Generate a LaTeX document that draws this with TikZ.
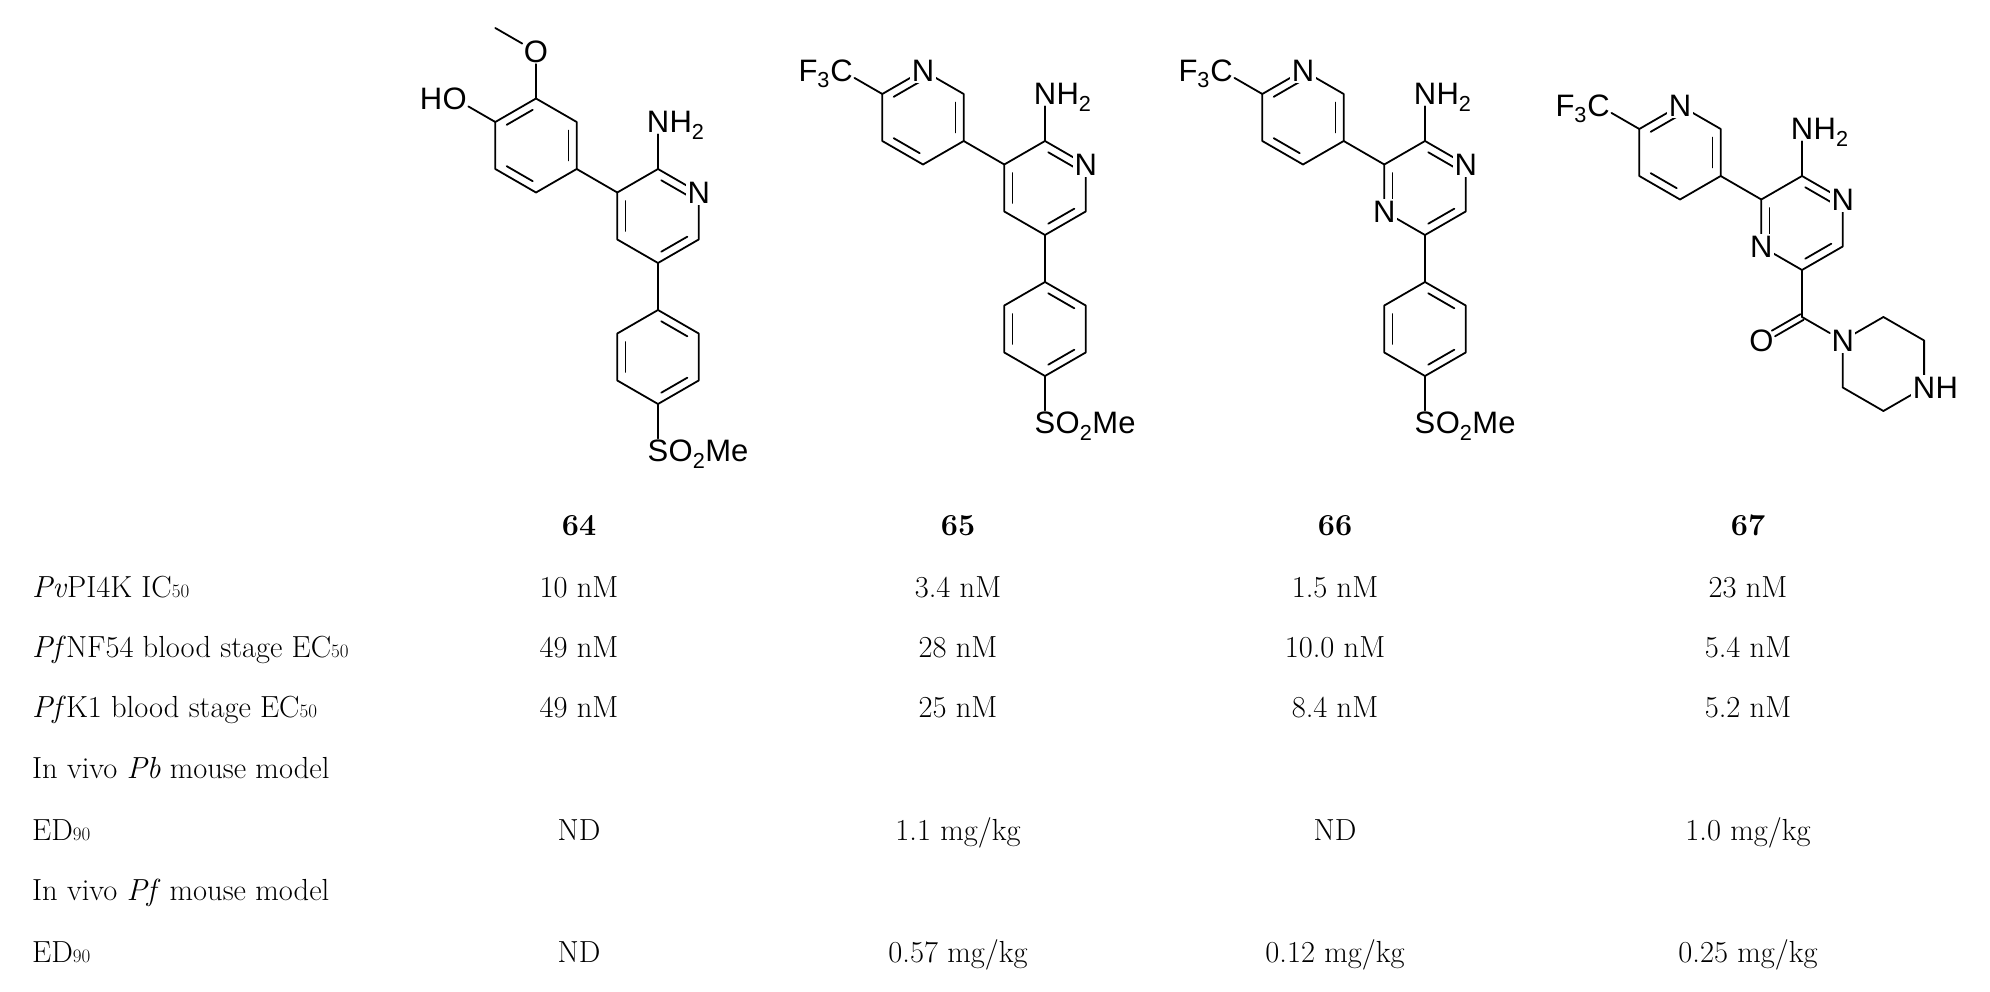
\documentclass[tikz,border=0pt]{standalone}
\usepackage{fontspec}
\newfontfamily\chemfont{Liberation Sans}
\usetikzlibrary{calc}
\newcommand\sbs[1]{{\fontsize{19}{19}\selectfont #1}}
\newcommand\hexring[2]{%
 \coordinate (#1) at (#2);
 \coordinate (#1t) at ($(#2)+(0,-47)$);
 \coordinate (#1ur) at ($(#2)+(40.7,-23.5)$);
 \coordinate (#1lr) at ($(#2)+(40.7,23.5)$);
 \coordinate (#1b) at ($(#2)+(0,47)$);
 \coordinate (#1ll) at ($(#2)+(-40.7,23.5)$);
 \coordinate (#1ul) at ($(#2)+(-40.7,-23.5)$);
 \draw[bond] (#1t)--(#1ur)--(#1lr)--(#1b)--(#1ll)--(#1ul)--cycle;}
\newcommand\dbl[3]{%
 \coordinate (tmpP) at ($(#1)!0.8!(#1#2)$);
 \coordinate (tmpQ) at ($(#1)!0.8!(#1#3)$);
 \draw[bond] ($(tmpP)!0.1!(tmpQ)$) -- ($(tmpQ)!0.1!(tmpP)$);}
\newcommand\patA[1]{\dbl{#1}{t}{ur}\dbl{#1}{lr}{b}\dbl{#1}{ll}{ul}}
\newcommand\patB[1]{\dbl{#1}{ul}{t}\dbl{#1}{ur}{lr}\dbl{#1}{b}{ll}}
\tikzset{
 bond/.style={line width=1.8pt, line cap=round, line join=round},
 atom/.style={font=\chemfont\fontsize{31}{31}\selectfont, fill=white, inner sep=1.5pt},
 atomrest/.style={font=\chemfont\fontsize{31}{31}\selectfont, inner sep=0pt},
 tab/.style={font=\fontsize{30.5}{30.5}\selectfont, anchor=base, inner sep=0pt},
 rowlab/.style={font=\fontsize{30.5}{30.5}\selectfont, anchor=base west, inner sep=0pt},
}
\begin{document}
\begin{tikzpicture}[x=1pt,y=-1pt]
\useasboundingbox (0,0) rectangle (1990,992);
% ---------- 64 ----------
\hexring{m64}{658,216}\patA{m64}
\hexring{l64}{536,145.5}\patB{l64}
\hexring{p64}{658,357}\patA{p64}
\node[atom] (n64) at (m64ur) {N};
\node[atom] (nh64) at ($(m64t)+(0,-47)$) {N};
\node[atomrest,anchor=base west] at ($(nh64.base east)+(-1.5,0)$) {H\textsubscript{2}};
\node[atom] (ome64) at ($(l64t)+(0,-47)$) {O};
\coordinate (me64) at ($(l64t)+(-40.7,-70.5)$);
\node[atom] (oh64) at ($(l64ul)+(-40.7,-23.5)$) {O};
\node[atomrest,anchor=base east] at ($(oh64.base west)+(1.5,0)$) {H};
\node[atom] (s64) at ($(p64b)+(0,47)$) {S};
\node[atomrest,anchor=base west] at ($(s64.base east)+(-1.5,0)$) {O\textsubscript{2}Me};
\draw[bond] (l64lr) -- (m64ul);
\draw[bond] (m64b) -- (p64t);
\draw[bond] (m64t) -- (nh64);
\draw[bond] (l64t) -- (ome64);
\draw[bond] (ome64) -- (me64);
\draw[bond] (l64ul) -- (oh64);
\draw[bond] (p64b) -- (s64);
% ---------- 65 ----------
\hexring{m65}{1045,188}\patA{m65}
\hexring{l65}{923,117.5}\patB{l65}
\hexring{p65}{1045,329}\patA{p65}
\node[atom] (n65) at (m65ur) {N};
\node[atom] (nl65) at (l65t) {N};
\node[atom] (nh65) at ($(m65t)+(0,-47)$) {N};
\node[atomrest,anchor=base west] at ($(nh65.base east)+(-1.5,0)$) {H\textsubscript{2}};
\node[atom] (c65) at ($(l65ul)+(-40.7,-23.5)$) {C};
\node[atomrest,anchor=base east] at ($(c65.base west)+(1.5,0)$) {F\textsubscript{3}};
\node[atom] (s65) at ($(p65b)+(0,47)$) {S};
\node[atomrest,anchor=base west] at ($(s65.base east)+(-1.5,0)$) {O\textsubscript{2}Me};
\draw[bond] (l65lr) -- (m65ul);
\draw[bond] (m65b) -- (p65t);
\draw[bond] (m65t) -- (nh65);
\draw[bond] (l65ul) -- (c65);
\draw[bond] (p65b) -- (s65);
% ---------- 66 ----------
\hexring{m66}{1425,188}\patA{m66}
\hexring{l66}{1303,117.5}\patB{l66}
\hexring{p66}{1425,329}\patA{p66}
\node[atom] (n66a) at (m66ur) {N};
\node[atom] (n66b) at (m66ll) {N};
\node[atom] (nl66) at (l66t) {N};
\node[atom] (nh66) at ($(m66t)+(0,-47)$) {N};
\node[atomrest,anchor=base west] at ($(nh66.base east)+(-1.5,0)$) {H\textsubscript{2}};
\node[atom] (c66) at ($(l66ul)+(-40.7,-23.5)$) {C};
\node[atomrest,anchor=base east] at ($(c66.base west)+(1.5,0)$) {F\textsubscript{3}};
\node[atom] (s66) at ($(p66b)+(0,47)$) {S};
\node[atomrest,anchor=base west] at ($(s66.base east)+(-1.5,0)$) {O\textsubscript{2}Me};
\draw[bond] (l66lr) -- (m66ul);
\draw[bond] (m66b) -- (p66t);
\draw[bond] (m66t) -- (nh66);
\draw[bond] (l66ul) -- (c66);
\draw[bond] (p66b) -- (s66);
% ---------- 67 ----------
\hexring{m67}{1802,223}\patA{m67}
\hexring{l67}{1680,152.5}\patB{l67}
\coordinate (co67) at ($(m67b)+(0,47)$);
\coordinate (oc67) at ($(co67)+(-40.7,23.5)$);
\hexring{q67}{1883.4,364}
\draw[bond] (m67b) -- (co67);
\draw[bond, shorten >=14pt] ($(co67)+(1.6,2.8)$) -- ($(oc67)+(1.6,2.8)$);
\draw[bond, shorten >=14pt] ($(co67)+(-1.6,-2.8)$) -- ($(oc67)+(-1.6,-2.8)$);
\node[atom] (n67a) at (m67ur) {N};
\node[atom] (n67b) at (m67ll) {N};
\node[atom] (nl67) at (l67t) {N};
\node[atom] (nh67) at ($(m67t)+(0,-47)$) {N};
\node[atomrest,anchor=base west] at ($(nh67.base east)+(-1.5,0)$) {H\textsubscript{2}};
\node[atom] (c67) at ($(l67ul)+(-40.7,-23.5)$) {C};
\node[atomrest,anchor=base east] at ($(c67.base west)+(1.5,0)$) {F\textsubscript{3}};
\node[atom,fill=none] (o67) at (oc67) {O};
\node[atom] (np67) at (q67ul) {N};
\node[atom] (nq67) at (q67lr) {N};
\node[atomrest,anchor=base west] at ($(nq67.base east)+(-1.5,0)$) {H};
\draw[bond] (l67lr) -- (m67ul);
\draw[bond] (m67t) -- (nh67);
\draw[bond] (l67ul) -- (c67);
\draw[bond] (co67) -- (np67);
% ---------- table ----------
\foreach \x/\n in {579/64,958/65,1335/66,1748/67}
  \node[tab,font=\fontsize{30.5}{30.5}\selectfont\bfseries] (h\n) at (\x,535) {\n};
\node[rowlab] (r1) at (32,597) {\textit{Pv}PI4K IC\sbs{50}};
\node[rowlab] (r2) at (32,657) {\textit{Pf}NF54 blood stage EC\sbs{50}};
\node[rowlab] (r3) at (32,717) {\textit{Pf}K1 blood stage EC\sbs{50}};
\node[rowlab] (r4) at (32,778) {In vivo \textit{Pb} mouse model};
\node[rowlab] (r5) at (32,840) {ED\sbs{90}};
\node[rowlab] (r6) at (32,900) {In vivo \textit{Pf} mouse model};
\node[rowlab] (r7) at (32,962) {ED\sbs{90}};
\foreach \x/\a/\b/\c/\d/\e in {579/10 nM/49 nM/49 nM/ND/ND,
  958/3.4 nM/28 nM/25 nM/1.1 mg\slash kg/0.57 mg\slash kg,
  1335/1.5 nM/10.0 nM/8.4 nM/ND/0.12 mg\slash kg,
  1748/23 nM/5.4 nM/5.2 nM/1.0 mg\slash kg/0.25 mg\slash kg}{
  \node[tab] at (\x,597) {\a};
  \node[tab] at (\x,657) {\b};
  \node[tab] at (\x,717) {\c};
  \node[tab] at (\x,840) {\d};
  \node[tab] at (\x,962) {\e};
}
\end{tikzpicture}
\end{document}
